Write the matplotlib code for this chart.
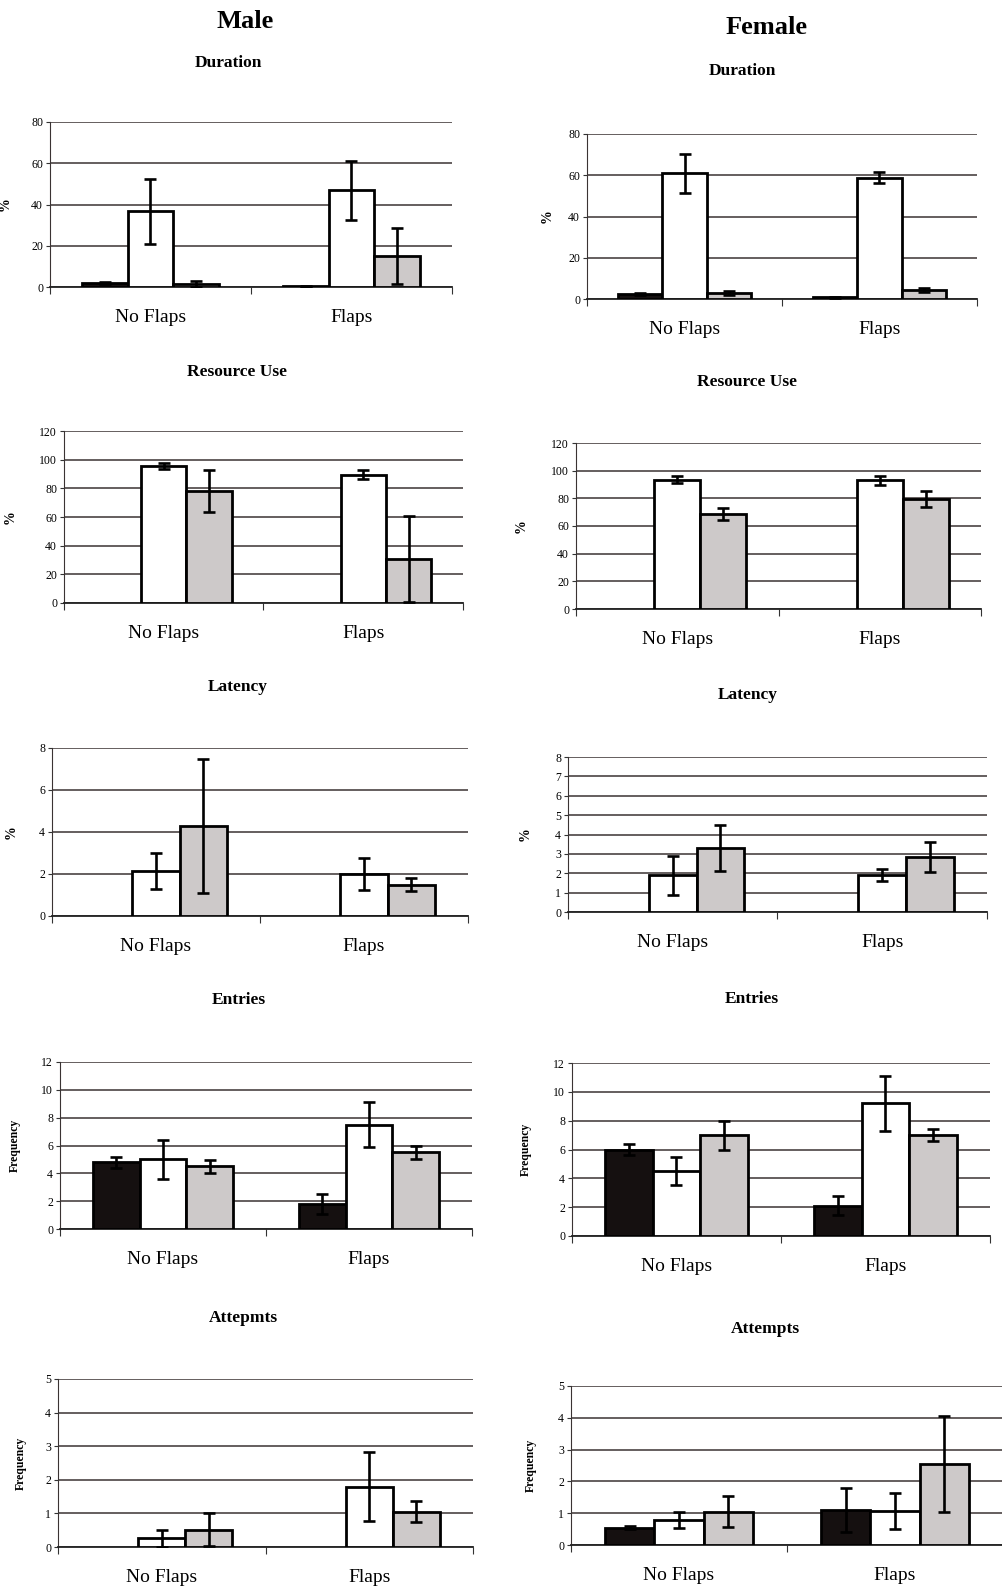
import numpy as np
import matplotlib
matplotlib.use("Agg")
import matplotlib.pyplot as plt

plt.rcParams['font.family'] = ['Liberation Serif', 'DejaVu Serif']

W, H = 1003, 1592
nan = np.nan

groups = ["No Flaps", "Flaps"]
bar_colors = ["#151010", "#ffffff", "#cdc9c9"]

# rows: black, white, grey bar ; columns: No Flaps, Flaps
male_dur = [[2.1, 0.3], [36.8, 46.8], [1.4, 15.0]]
male_dur_err = [[0.5, 0.1], [15.8, 14.2], [1.4, 13.5]]
female_dur = [[2.3, 0.8], [61.0, 58.9], [2.9, 4.2]]
female_dur_err = [[0.5, 0.1], [9.4, 2.6], [0.8, 1.0]]

male_res = [[nan, nan], [95.5, 89.5], [78.2, 31.0]]
male_res_err = [[nan, nan], [2.0, 3.0], [14.5, 30.0]]
female_res = [[nan, nan], [93.5, 93.0], [68.5, 79.5]]
female_res_err = [[nan, nan], [2.7, 3.0], [4.4, 6.0]]

male_lat = [[nan, nan], [2.15, 2.0], [4.3, 1.5]]
male_lat_err = [[nan, nan], [0.85, 0.78], [3.2, 0.33]]
female_lat = [[nan, nan], [1.9, 1.9], [3.3, 2.85]]
female_lat_err = [[nan, nan], [1.0, 0.3], [1.2, 0.78]]

male_ent = [[4.8, 1.8], [5.0, 7.5], [4.5, 5.5]]
male_ent_err = [[0.4, 0.7], [1.4, 1.6], [0.48, 0.5]]
female_ent = [[6.0, 2.1], [4.5, 9.2], [7.0, 7.0]]
female_ent_err = [[0.4, 0.65], [0.95, 1.9], [1.0, 0.4]]

male_att = [[nan, nan], [0.26, 1.8], [0.52, 1.05]]
male_att_err = [[nan, nan], [0.25, 1.03], [0.5, 0.31]]
female_att = [[0.55, 1.1], [0.78, 1.07], [1.05, 2.55]]
female_att_err = [[0.05, 0.7], [0.25, 0.58], [0.48, 1.5]]

# title, values, errors, ymax, ystep, ylabel, (x0, x1, ytop, ybot) px, ylabel x px, title (x, y) px
panels = [
    ("Duration", male_dur, male_dur_err, 80, 20, "%", (50, 452, 122, 287), 12, (228, 63)),
    ("Duration", female_dur, female_dur_err, 80, 20, "%", (587, 977, 134, 299), 554, (742, 71)),
    ("Resource Use", male_res, male_res_err, 120, 20, "%", (64, 463, 431, 603), 17, (237, 372)),
    ("Resource Use", female_res, female_res_err, 120, 20, "%", (576, 981, 443, 609), 528, (747, 382)),
    ("Latency", male_lat, male_lat_err, 8, 2, "%", (52, 468, 748, 916), 18, (238, 687)),
    ("Latency", female_lat, female_lat_err, 8, 1, "%", (568, 987, 757, 912), 532, (748, 695)),
    ("Entries", male_ent, male_ent_err, 12, 2, "Frequency", (60, 472, 1062, 1229), 21, (239, 1000)),
    ("Entries", female_ent, female_ent_err, 12, 2, "Frequency", (572, 990, 1063, 1236), 532, (752, 999)),
    ("Attepmts", male_att, male_att_err, 5, 1, "Frequency", (58, 473, 1379, 1547), 27, (243, 1318)),
    ("Attempts", female_att, female_att_err, 5, 1, "Frequency", (571, 1003, 1386, 1545), 537, (765, 1329)),
]

fig = plt.figure(figsize=(W / 100, H / 100), dpi=100, facecolor="white")

fig.text(245 / W, 1 - 22 / H, "Male", ha="center", va="center", fontsize=19, fontweight="bold")
fig.text(767 / W, 1 - 27 / H, "Female", ha="center", va="center", fontsize=19, fontweight="bold")

bw = 0.227
centers = np.array([0.5, 1.5])

for title, vals, errs, ymax, ystep, ylab, (x0, x1, yt, yb), lx, (tx, ty) in panels:
    ax = fig.add_axes([x0 / W, 1 - yb / H, (x1 - x0) / W, (yb - yt) / H])
    for i in range(3):
        xs = centers + (i - 1) * bw
        ax.bar(xs, vals[i], width=bw, color=bar_colors[i], edgecolor="black",
               linewidth=2.0, zorder=3)
        ax.errorbar(xs, vals[i], yerr=errs[i], fmt="none", ecolor="black",
                    elinewidth=1.9, capsize=4.5, capthick=1.9, zorder=4)
    ax.set_xlim(0, 2)
    ax.set_ylim(0, ymax)
    ax.set_yticks(np.arange(0, ymax + ystep / 2, ystep))
    ax.yaxis.grid(True, color="#3a3333", linewidth=1.1, zorder=0)
    ax.set_axisbelow(True)
    for s in ["top", "right"]:
        ax.spines[s].set_visible(False)
    ax.spines["left"].set_color("#3a3333")
    ax.spines["bottom"].set_color("#222222")
    ax.spines["bottom"].set_linewidth(1.3)
    ax.set_xticks([0, 1, 2])
    ax.set_xticklabels([])
    ax.set_xticks(centers, minor=True)
    ax.set_xticklabels(groups, minor=True, fontsize=14)
    ax.tick_params(axis="x", which="major", length=5, direction="out", color="#333333")
    ax.tick_params(axis="x", which="minor", length=0, pad=16)
    ax.tick_params(axis="y", length=3, labelsize=8.5, pad=2, color="#333333")
    ax.set_ylabel(ylab, fontsize=8.5 if ylab == "Frequency" else 10, fontweight="bold")
    ax.yaxis.set_label_coords((lx - x0) / (x1 - x0), 0.5)
    fig.text(tx / W, 1 - ty / H, title, ha="center", va="center", fontsize=12.5, fontweight="bold")

fig.savefig("out.png", dpi=100, facecolor="white")
